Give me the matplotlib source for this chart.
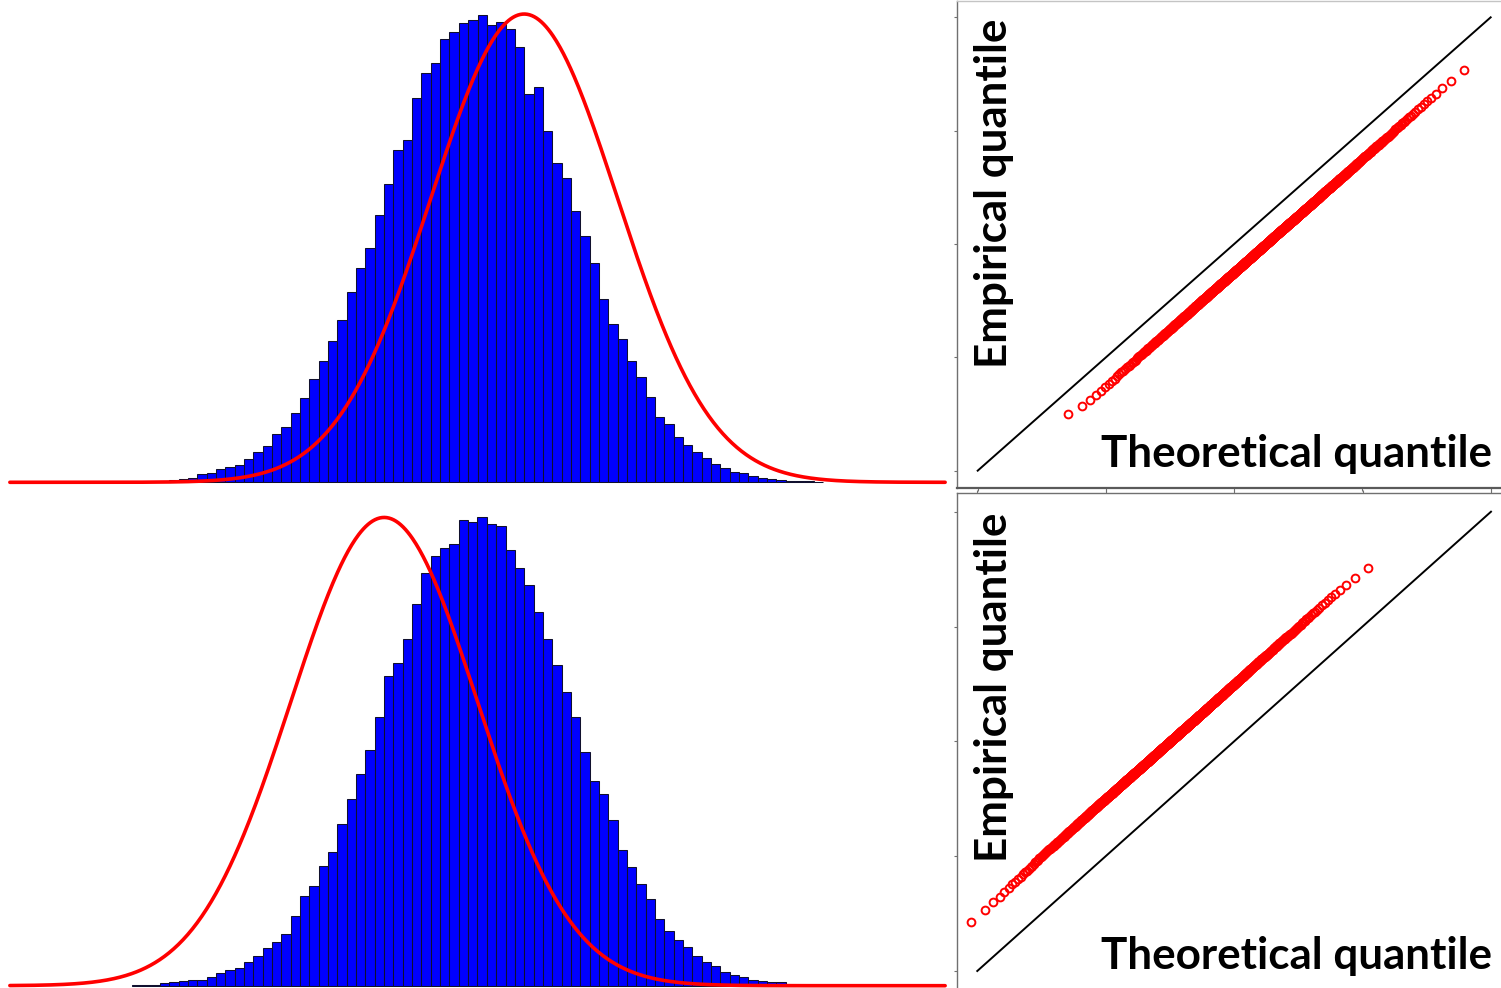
import numpy as np
import matplotlib.pyplot as plt
from statistics import NormalDist

W, H = 1501, 988
bin_width = 0.1
n_points = 1000
sigma = 1.0

# upper row: sample histogram against a N(0.5, 1) reference
top_start = -3.4
top_density = [0.001, 0.002,
               0.003, 0.004, 0.007, 0.008, 0.011, 0.013, 0.015, 0.020, 0.026, 0.031,
               0.041, 0.047, 0.059, 0.072, 0.088, 0.103, 0.120, 0.138, 0.162, 0.183,
               0.200, 0.228, 0.254, 0.283, 0.292, 0.327, 0.349, 0.357, 0.378, 0.384,
               0.391, 0.394, 0.398, 0.390, 0.392, 0.386, 0.371, 0.331, 0.337, 0.299,
               0.272, 0.259, 0.231, 0.210, 0.187, 0.156, 0.135, 0.122, 0.103, 0.090,
               0.073, 0.056, 0.050, 0.039, 0.032, 0.026, 0.021, 0.016, 0.012, 0.009,
               0.008, 0.005, 0.004, 0.003, 0.002, 0.001, 0.001, 0.001, 0.0005]
top_mean = 0.5

# lower row: sample histogram against a N(-1, 1) reference
bottom_start = -3.7
bottom_density = [0.001, 0.001, 0.001, 0.002, 0.003, 0.004, 0.005, 0.005, 0.007, 0.011,
                  0.013, 0.015, 0.020, 0.025, 0.032, 0.037, 0.044, 0.059, 0.076, 0.085,
                  0.102, 0.114, 0.138, 0.159, 0.180, 0.201, 0.229, 0.264, 0.275, 0.295,
                  0.325, 0.352, 0.366, 0.373, 0.376, 0.397, 0.395, 0.399, 0.393, 0.392,
                  0.371, 0.356, 0.341, 0.318, 0.295, 0.273, 0.250, 0.229, 0.199, 0.174,
                  0.163, 0.141, 0.116, 0.101, 0.087, 0.074, 0.057, 0.047, 0.039, 0.033,
                  0.025, 0.020, 0.017, 0.012, 0.009, 0.007, 0.005, 0.004, 0.003, 0.003,
                  0.001]
bottom_mean = -1.0

qq_ticks = [-4, -2, 0, 2, 4]

plt.rcParams['font.family'] = ['Lato', 'DejaVu Sans']
fig = plt.figure(figsize=(W / 100, H / 100), dpi=100)


def px_axes(left, top, right, bottom):
    """Add axes from a pixel box given as left, top, right, bottom."""
    return fig.add_axes([left / W, 1 - bottom / H, (right - left) / W, (bottom - top) / H])


def hist_panel(ax, start, density, mean, ylim):
    edges = start + bin_width * np.arange(len(density))
    ax.bar(edges, density, width=bin_width, align='edge', color='#0000ff',
           edgecolor='#10102e', linewidth=0.75)
    xs = np.linspace(-5.01, 5.01, 800)
    pdf = np.exp(-0.5 * ((xs - mean) / sigma) ** 2) / (sigma * np.sqrt(2 * np.pi))
    ax.plot(xs, pdf, color='#ff0000', lw=2.6, solid_capstyle='round')
    ax.set_xlim(-5.03, 5.03)
    ax.set_ylim(*ylim)
    ax.axis('off')


def qq_panel(ax, start, density, mean, xlim, ylim, top_ticks=False):
    edges = start + bin_width * np.arange(len(density) + 1)
    cdf = np.concatenate([[0.0], np.cumsum(density)])
    cdf = cdf / cdf[-1]
    p = np.arange(1, n_points + 1) / (n_points + 1)
    empirical = np.interp(p, cdf, edges)
    ref = NormalDist(mean, sigma)
    theoretical = np.array([ref.inv_cdf(q) for q in p])

    ax.plot([-4, 4], [-4, 4], color='black', lw=1.4)
    ax.plot(theoretical, empirical, 'o', mfc='none', mec='#ff0000', ms=5.6, mew=1.4)
    ax.set_xlim(*xlim)
    ax.set_ylim(*ylim)
    ax.set_xticks(qq_ticks)
    ax.set_yticks(qq_ticks)
    ax.set_xticklabels([])
    ax.set_yticklabels([])
    ax.tick_params(direction='out', length=2, width=0.8, color='#707070')
    if top_ticks:
        ax.xaxis.tick_top()
    ax.spines['right'].set_visible(False)
    for side in ['left', 'top', 'bottom']:
        ax.spines[side].set_color('#707070')
        ax.spines[side].set_linewidth(1.0)
    return ax


ax1 = px_axes(8, 0, 947, 486)
hist_panel(ax1, top_start, top_density, top_mean, (-0.00315, 0.4109))

ax3 = px_axes(8, 497, 947, 988)
hist_panel(ax3, bottom_start, bottom_density, bottom_mean, (-0.00196, 0.41637))

ax2 = px_axes(957.3, 1, 1501, 488.3)
qq_panel(ax2, top_start, top_density, top_mean, (-4.318, 4.161), (-4.311, 4.288))
ax2.spines['top'].set_color('#c4c4c4')
ax2.spines['bottom'].set_linewidth(1.6)
ax2.spines['bottom'].set_color('#5a5a5a')

ax4 = px_axes(957.3, 492.7, 1501, 988)
qq_panel(ax4, bottom_start, bottom_density, bottom_mean, (-4.311, 4.156), (-4.296, 4.331),
         top_ticks=True)
ax4.spines['bottom'].set_visible(False)

# axis captions placed inside the Q-Q panels
labels = []
for y_theo, y_emp in [(467, 368), (969, 862)]:
    t1 = fig.text(1492 / W, 1 - y_theo / H, 'Theoretical quantile', ha='right',
                  va='baseline', fontsize=30, fontweight='bold')
    t2 = fig.text(1007 / W, 1 - y_emp / H, 'Empirical quantile', ha='left',
                  va='baseline', rotation=90, rotation_mode='anchor',
                  fontsize=30, fontweight='bold')
    labels.append((t1, 391, False))
    labels.append((t2, 350, True))

fig.canvas.draw()
renderer = fig.canvas.get_renderer()
for t, target, rotated in labels:
    ext = t.get_window_extent(renderer)
    size = ext.height if rotated else ext.width
    t.set_fontsize(t.get_fontsize() * target / size)

fig.savefig('out.png', dpi=100, facecolor='white')
